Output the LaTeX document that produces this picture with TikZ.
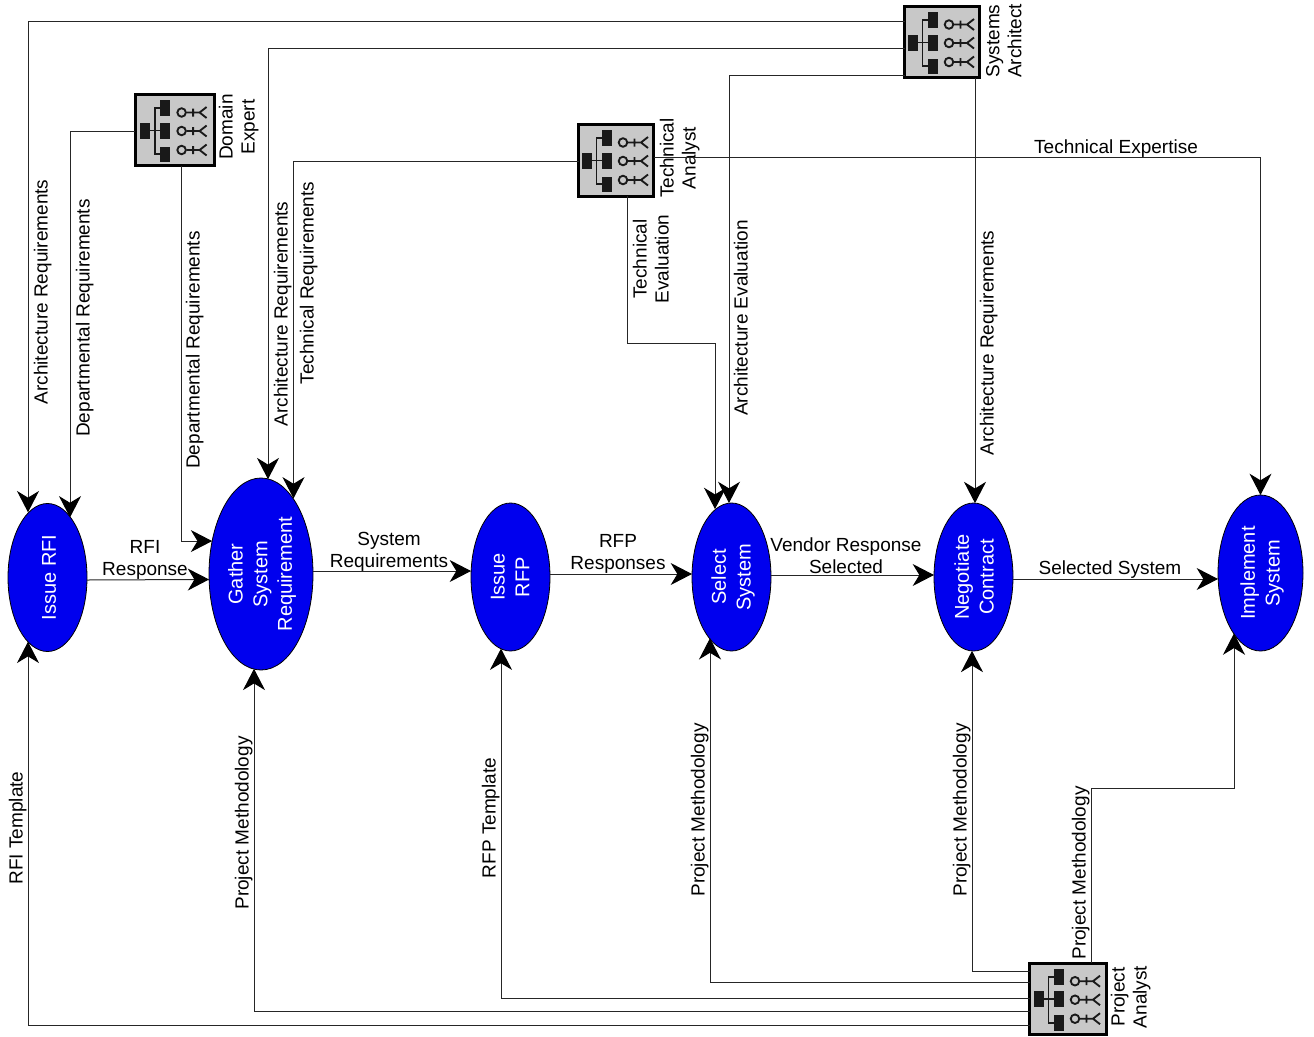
\documentclass[tikz,border=0pt]{standalone}
\usepackage{fontspec}
\setmainfont{Liberation Sans}
\usetikzlibrary{arrows.meta,shapes.geometric}
\definecolor{procblue}{RGB}{0,0,238}
\definecolor{iconbg}{RGB}{200,200,200}
\definecolor{iconink}{RGB}{25,25,25}
\tikzset{
  proc/.style={shape=ellipse,draw=black,fill=procblue,line width=0.6pt,inner sep=0pt,outer sep=0pt},
  proclab/.style={xshift=1.2pt,rotate=90,align=center,text=white,inner sep=0pt,font=\fontsize{15}{18.5}\selectfont},
  role/.style={draw=black,fill=iconbg,line width=2.25pt,inner sep=0pt,outer sep=0pt},
  conn/.style={draw=black!85,line width=0.75pt,-{Stealth[length=16pt,width=16.5pt,inset=5pt,black]}},
  lab/.style={inner sep=0pt,align=center,font=\fontsize{14.25}{16.5}\selectfont},
  hlab/.style={lab,yshift=-1.9pt},
  vlab/.style={lab,xshift=1.3pt,rotate=90},
  orgicon/.pic={
    \fill[iconink] (-34.5,-7.5) rectangle (-24.5,8.5);
    \fill[iconink] (-14.5,-30) rectangle (-4.5,-14);
    \fill[iconink] (-14.5,-7.5) rectangle (-4.5,8.5);
    \fill[iconink] (-14.5,16.5) rectangle (-4.5,32);
    \draw[iconink,line width=1.3pt] (-25,0.5) -- (-14.5,0.5) (-14.5,-22) -- (-19.5,-22) -- (-19.5,24) -- (-14.5,24);
    \foreach \yy in {-17.5,1,20}{
      \draw[iconink,line width=1.4pt] (7,\yy) circle[radius=3.2pt];
      \draw[iconink,line width=1.4pt] (12,\yy) -- (25,\yy) (32,\yy-5.5) -- (25,\yy) -- (32,\yy+5.5) (18.5,\yy-4) -- (18.5,\yy+4);
    }
  }
}
\begin{document}
\begin{tikzpicture}[x=0.75pt,y=-0.75pt]
\useasboundingbox (0,0) rectangle (1314,1036);
% processes
\node[proc,minimum width=59.25pt,minimum height=111pt] (rfi) at (47.5,577.5) {};
\node[proc,minimum width=78pt,minimum height=144pt] (gsr) at (261,574) {};
\node[proc,minimum width=59.25pt,minimum height=111pt] (rfp) at (510.5,577) {};
\node[proc,minimum width=59.25pt,minimum height=111pt] (sel) at (731.5,577) {};
\node[proc,minimum width=59.25pt,minimum height=111pt] (neg) at (973.5,577) {};
\node[proc,minimum width=63.75pt,minimum height=117pt] (imp) at (1260.5,573) {};
\node[proclab] (rfit) at (rfi) {Issue RFI};
\node[proclab] (gsrt) at (260.5,574) {Gather\\System\\Requirement};
\node[proclab] (rfpt) at (508.5,577) {Issue\\RFP};
\node[proclab] (selt) at (sel) {Select\\System};
\node[proclab] (negt) at (972.5,577) {Negotiate\\Contract};
\node[proclab] (impt) at (imp) {Implement\\System};
% roles
\node[role,minimum width=56.25pt,minimum height=53.25pt] (sa) at (942,42) {};
\node[role,minimum width=59.25pt,minimum height=53.25pt] (de) at (174.6,130) {};
\node[role,minimum width=56.25pt,minimum height=54pt] (ta) at (616,160) {};
\node[role,minimum width=57.75pt,minimum height=53.25pt] (pa) at (1068,998.7) {};
\pic at (sa) {orgicon};
\pic at (de) {orgicon};
\pic at (ta) {orgicon};
\pic at (pa) {orgicon};
\node[vlab] (sal) at (1002,41) {Systems\\Architect};
\node[vlab] (del) at (237,127) {Domain\\Expert};
\node[vlab] (tal) at (678,158) {Technical\\Analyst};
\node[vlab] (pal) at (1129,997) {Project\\Analyst};
% connectors
\draw[conn] (sa.west |- 0,21) -| (28,0 |- rfi.106.8);
\draw[conn] (sa.west |- 0,48) -| (268,0 |- gsr.85.8);
\draw[conn] (sa.west |- 0,75) -| (729,0 |- sel.91.9);
\draw[conn] (975,0 |- sa.south) -- (975,0 |- neg.88.8);
\draw[conn] (de.west |- 0,131) -| (70,0 |- rfi.69.7);
\draw[conn] (181,0 |- de.south) |- (gsr.146.9);
\draw[conn] (ta.west |- 0,161) -| (293.5,0 |- gsr.67.1);
\draw[conn] (ta.east |- 0,157) -| (imp.north);
\draw[conn] (627,0 |- ta.south) |- (715,343) -- (715,0 |- sel.103.8);
\draw[conn] (rfi.east |- 0,580) -- (gsr.186.6);
\draw[conn] (gsr.east |- 0,571) -- (rfp.west |- 0,571);
\draw[conn] (rfp.east |- 0,574) -- (sel.west |- 0,574);
\draw[conn] (sel.east |- 0,575) -- (neg.west |- 0,575);
\draw[conn] (neg.east |- 0,579) -- (imp.west |- 0,579);
\draw[conn] (pa.west |- 0,971) -| (972,0 |- neg.268.8);
\draw[conn] (pa.west |- 0,982) -| (710,0 |- sel.250.9);
\draw[conn] (pa.west |- 0,998) -| (501,0 |- rfp.262.6);
\draw[conn] (pa.west |- 0,1011) -| (254,0 |- gsr.265.8);
\draw[conn] (pa.west |- 0,1025) -| (28,0 |- rfi.253.2);
\draw[conn] (1091,0 |- pa.north) |- (1234,788) -- (1234,0 |- imp.246.5);
% labels
\node[vlab] (l1) at (41,292) {Architecture Requirements};
\node[vlab] (l2) at (83,318) {Departmental Requirements};
\node[vlab] (l3) at (193,350) {Departmental Requirements};
\node[vlab] (l4) at (281,314) {Architecture Requirements};
\node[vlab] (l5) at (307,283) {Technical Requirements};
\node[vlab] (l6) at (649,259) {Technical\\Evaluation};
\node[vlab] (l7) at (739,318) {Architecture Evaluation};
\node[vlab] (l8) at (987,343) {Architecture Requirements};
\node[hlab] (l9) at (1116,146) {Technical Expertise};
\node[hlab] (l10) at (145,557) {RFI\\Response};
\node[hlab] (l11) at (389,549) {System\\Requirements};
\node[hlab] (l12) at (618,551) {RFP\\Responses};
\node[hlab] (l13) at (846,553) {Vendor Response\\Selected};
\node[hlab] (l14) at (1110,567) {Selected System};
\node[vlab] (l15) at (16,828) {RFI Template};
\node[vlab] (l16) at (242,823) {Project Methodology};
\node[vlab] (l17) at (489,818) {RFP Template};
\node[vlab] (l18) at (698,810) {Project Methodology};
\node[vlab] (l19) at (960,810) {Project Methodology};
\node[vlab] (l20) at (1079,873) {Project Methodology};
\end{tikzpicture}
\end{document}
